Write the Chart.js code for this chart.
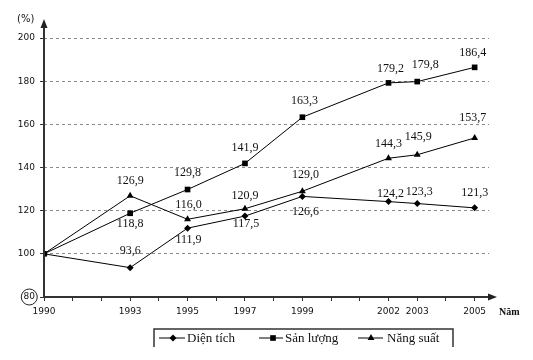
<!DOCTYPE html>
<html lang="vi">
<head>
<meta charset="UTF-8">
<title>Chart</title>
<style>
    body { margin: 0; background: #fff; }
    #wrap { width: 533px; height: 360px; position: relative; }
</style>
</head>
<body>
<div id="wrap"><canvas id="myChart"></canvas></div>
<script src="https://cdn.jsdelivr.net/npm/chart.js"></script>
<script>
    // data
    const years = [1990, 1993, 1995, 1997, 1999, 2002, 2003, 2005];
    const dienTich = [100, 93.6, 111.9, 117.5, 126.6, 124.2, 123.3, 121.3];
    const sanLuong = [100, 118.8, 129.8, 141.9, 163.3, 179.2, 179.8, 186.4];
    const nangSuat = [100, 126.9, 116.0, 120.9, 129.0, 144.3, 145.9, 153.7];
    const yTicks = [80, 100, 120, 140, 160, 180, 200];
    const seriesNames = ["Diện tích", "Sản lượng", "Năng suất"];
    const yUnit = "(%)";
    const xUnit = "Năm";

    // label nudges (style only), first point has no label
    const labelDy = [
        [null, -17, 12, 8, 15, -8, -12, -15],
        [null, 11, -17, -16, -16, -14, -17, -15],
        [null, -15, -14, -13, -16, -14, -18, -20]
    ];
    const labelDx = [
        [0, 0, 1, 1, 3, 2, 2, 0],
        [0, 0, 0, 0, 2, 2, 8, -2],
        [0, 0, 1, 0, 3, 0, 1, -2]
    ];
    const styles = ["rectRot", "rect", "triangle"];
    const radii = [3.5, 4, 4];

    let allYears = [];
    for (let y = years[0]; y <= years[years.length - 1]; y++) allYears.push(y);

    function toPoints(vals) {
        return vals.map((v, i) => ({ x: years[i], y: v }));
    }
    function fmt(v) {
        return v.toFixed(1).replace(".", ",");
    }

    const series = [dienTich, sanLuong, nangSuat];

    const extras = {
        id: "extras",
        afterDraw(chart) {
            const c = chart.ctx;
            const area = chart.chartArea;
            const xs = chart.scales.x, ys = chart.scales.y;
            c.save();

            // axis lines + arrows
            c.strokeStyle = "#333";
            c.fillStyle = "#222";
            c.lineWidth = 2;
            c.beginPath();
            c.moveTo(area.left, area.bottom);
            c.lineTo(area.left, 26);
            c.moveTo(area.left, area.bottom);
            c.lineTo(490, area.bottom);
            c.stroke();
            c.beginPath();
            c.moveTo(area.left, 19);
            c.lineTo(area.left - 3.5, 28);
            c.lineTo(area.left + 3.5, 28);
            c.closePath();
            c.fill();
            c.beginPath();
            c.moveTo(497, area.bottom);
            c.lineTo(488, area.bottom - 3.5);
            c.lineTo(488, area.bottom + 3.5);
            c.closePath();
            c.fill();

            // unit texts
            c.fillStyle = "#111";
            c.font = "10px 'DejaVu Sans'";
            c.textAlign = "left";
            c.textBaseline = "middle";
            c.fillText(yUnit, 17, 19);
            c.font = "bold 10px 'Liberation Serif'";
            c.fillText(xUnit, 499, 312);

            // circle round the lowest tick label
            c.font = "9px 'DejaVu Sans'";
            const w80 = c.measureText(String(yTicks[0])).width;
            c.strokeStyle = "#222";
            c.lineWidth = 1;
            c.beginPath();
            c.arc(35 - w80 / 2, ys.getPixelForValue(yTicks[0]), 8, 0, Math.PI * 2);
            c.stroke();

            // data labels
            c.font = "12px 'Liberation Serif'";
            c.textAlign = "center";
            c.fillStyle = "#111";
            series.forEach((vals, s) => {
                vals.forEach((v, i) => {
                    if (labelDy[s][i] === null) return;
                    const px = xs.getPixelForValue(years[i]);
                    const py = ys.getPixelForValue(v);
                    c.fillText(fmt(v), px + labelDx[s][i], py + labelDy[s][i]);
                });
            });

            // legend box
            const lx0 = 154, lx1 = 453, ly0 = 329, ly1 = 347;
            c.strokeStyle = "#333";
            c.lineWidth = 1.5;
            c.beginPath();
            c.moveTo(lx0, ly1);
            c.lineTo(lx0, ly0);
            c.lineTo(lx1, ly0);
            c.lineTo(lx1, ly1);
            c.stroke();

            const items = [
                { x0: 159, x1: 185, m: 173, t: 187 },
                { x0: 259, x1: 283, m: 273, t: 285 },
                { x0: 358, x1: 383, m: 371, t: 387 }
            ];
            const ly = 338;
            c.font = "13px 'Liberation Serif'";
            c.textAlign = "left";
            items.forEach((it, s) => {
                c.strokeStyle = "#000";
                c.lineWidth = 1;
                c.beginPath();
                c.moveTo(it.x0, ly);
                c.lineTo(it.x1, ly);
                c.stroke();
                c.fillStyle = "#000";
                Chart.helpers.drawPoint(c, { pointStyle: styles[s], radius: radii[s], rotation: 0, borderWidth: 0 }, it.m, ly);
                c.fillStyle = "#111";
                c.fillText(seriesNames[s], it.t, ly + 1);
            });
            c.restore();
        }
    };

    const datasets = series.map((vals, s) => ({
        label: seriesNames[s],
        data: toPoints(vals),
        borderColor: "#000",
        backgroundColor: "#000",
        borderWidth: 1,
        pointStyle: styles[s],
        pointRadius: radii[s],
        pointBorderWidth: 0,
        tension: 0
    }));

    new Chart(document.getElementById("myChart"), {
        type: "line",
        data: { datasets: datasets },
        options: {
            responsive: true,
            maintainAspectRatio: false,
            animation: false,
            events: [],
            layout: { padding: { left: 0, top: 38, right: 44, bottom: 0 } },
            plugins: { legend: { display: false }, tooltip: { enabled: false } },
            scales: {
                x: {
                    type: "linear",
                    min: years[0],
                    max: 2005.5,
                    afterBuildTicks: (scale) => { scale.ticks = allYears.map(v => ({ value: v })); },
                    afterFit: (scale) => { scale.height = 63; },
                    border: { display: false },
                    grid: { drawOnChartArea: false, tickLength: 4, tickColor: "#333", tickWidth: 1 },
                    ticks: {
                        autoSkip: false,
                        maxRotation: 0,
                        padding: 5,
                        color: "#111",
                        font: { family: "DejaVu Sans", size: 9 },
                        callback: (v) => years.includes(v) ? String(v) : ""
                    }
                },
                y: {
                    min: yTicks[0],
                    max: yTicks[yTicks.length - 1],
                    afterBuildTicks: (scale) => { scale.ticks = yTicks.map(v => ({ value: v })); },
                    afterFit: (scale) => { scale.width = 44; },
                    border: { display: false, dash: [3, 3] },
                    grid: {
                        color: (ctx) => ctx.tick && ctx.tick.value === yTicks[0] ? "rgba(0,0,0,0)" : "#8a8a8a",
                        lineWidth: 1,
                        tickLength: 4,
                        tickColor: "#333",
                        tickBorderDash: []
                    },
                    ticks: {
                        padding: 5,
                        color: "#111",
                        font: { family: "DejaVu Sans", size: 9 }
                    }
                }
            }
        },
        plugins: [extras]
    });
</script>
</body>
</html>
